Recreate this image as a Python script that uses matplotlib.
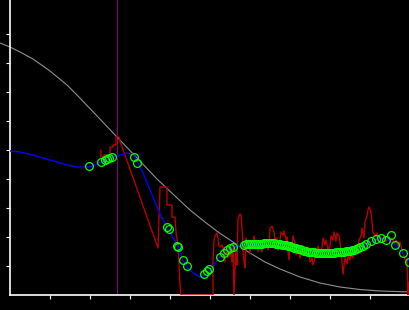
import matplotlib
matplotlib.use("Agg")
import matplotlib.pyplot as plt

# ---- data ----
gray_x = [-10, 0, 10, 23, 40, 57, 67, 88, 107, 127, 147, 165, 180, 195, 208, 223, 240,
          255, 270, 290, 310, 330, 350, 370, 400]
gray_y = [252, 248, 243, 236, 224, 210, 200, 178, 158, 137, 116, 99, 85, 73, 63, 53, 42,
          33, 26, 18, 12, 8, 5.5, 4, 3]

blue_x = [0, 10, 23, 33, 47, 57, 67, 79, 87, 93, 103, 110, 117, 122, 125, 128, 133, 140,
          147, 153, 160, 168, 173, 178, 183, 190, 195, 200, 210, 215, 223, 233, 250, 260,
          270, 280, 290, 300, 310, 320, 330, 340, 350, 360, 370, 377, 385, 393, 400]
blue_y = [144, 143, 140, 137, 133, 130, 128, 128, 131, 134, 138, 140, 142, 141, 138, 132,
          122, 105, 88, 75, 63, 48, 35, 27, 22, 18, 20, 25, 38, 43, 48, 50, 51, 52, 51, 49,
          46, 43, 42, 42, 43, 44, 48, 53, 57, 56, 50, 42, 33]

red_x = [91, 91, 94, 94, 97, 97, 100, 100, 103, 103, 106, 106, 109, 110, 148, 150, 157,
         157, 162, 162, 165, 166, 168, 169, 170, 171, 203, 203, 204, 205, 207, 208, 209,
         210, 212, 214, 215, 216, 218, 219, 220, 221, 222, 223, 224, 225, 226, 227, 228,
         230, 231, 232, 233, 234, 235, 236, 238, 239, 240, 241, 243, 244, 246, 247, 248,
         249, 250, 252, 253, 255, 256, 258, 259, 260, 262, 264, 265, 267, 268, 270, 271,
         273, 274, 276, 277, 278, 279, 280, 282, 283, 285, 286, 288, 290, 292, 293, 295,
         297, 299, 300, 302, 303, 305, 307, 308, 310, 312, 313, 315, 316, 318, 320, 321,
         323, 324, 326, 327, 329, 330, 331, 332, 333, 334, 335, 337, 338, 340, 341, 343,
         345, 346, 348, 349, 351, 352, 354, 355, 357, 358, 359, 361, 362, 363, 365, 367,
         368, 370, 372, 374, 376, 378, 380, 382, 384, 386, 388, 390, 392, 394, 396, 397,
         398, 399, 400]
red_y = [145, 138, 138, 140, 140, 138, 138, 148, 148, 150, 150, 158, 158, 154, 47, 108,
         108, 90, 90, 78, 78, 62, 50, 30, 10, 0, 0, 33, 55, 59, 62, 57, 49, 48, 50, 45,
         33, 45, 37, 48, 39, 45, 33, 48, 0, 25, 45, 30, 77, 81, 80, 67, 45, 33, 27, 57,
         49, 55, 41, 54, 48, 59, 49, 55, 43, 52, 50, 43, 53, 47, 51, 45, 49, 67, 69, 63,
         55, 57, 45, 55, 63, 60, 64, 55, 58, 43, 35, 53, 49, 59, 52, 40, 47, 37, 45, 49,
         43, 39, 43, 33, 37, 30, 37, 45, 49, 41, 47, 57, 50, 55, 45, 49, 59, 55, 63, 54,
         62, 59, 53, 43, 33, 21, 29, 37, 31, 39, 35, 41, 37, 45, 41, 47, 55, 59, 67, 57,
         73, 79, 85, 88, 83, 73, 63, 59, 62, 55, 59, 55, 59, 53, 57, 53, 57, 51, 55, 49,
         53, 45, 39, 33, 37, 0, 12, 15]

pts_x = [79, 91, 95, 97, 99, 102, 124, 127, 157, 159, 167, 168, 173, 177, 194, 197, 199,
         210, 214, 217, 220, 223,
         234, 236, 238, 240, 242, 244, 246, 248, 250, 252, 254, 256, 258, 260, 262, 264,
         266, 268, 270, 272, 274, 276, 278, 280, 282, 284, 286, 288, 290, 292, 294, 296,
         298, 300, 302, 304, 306, 308, 310, 312, 314, 316, 318, 320, 322, 324, 326, 328,
         330, 332, 334, 336, 338, 340, 342, 344, 346, 348, 350, 353,
         356, 361, 366, 371, 376, 381, 385, 393, 399]
pts_y = [129, 133, 135, 136, 137, 138, 138, 132, 68, 66, 49, 48, 35, 29, 21, 24, 26, 38,
         42, 45, 47, 48,
         50, 51, 51, 51, 51, 51, 51, 51, 51, 51, 52, 52, 52, 52, 52, 52,
         51, 51, 51, 50, 50, 50, 49, 49, 48, 47, 47, 46, 46, 45, 44, 44,
         43, 43, 43, 43, 42, 42, 42, 42, 42, 42, 42, 42, 42, 42, 43, 43,
         43, 43, 43, 44, 44, 44, 45, 45, 46, 47, 48, 49,
         51, 54, 56, 57, 55, 60, 50, 42, 33]

cursor_x = 107.5
x_ticks = [40, 80, 120, 160, 200, 240, 280, 320, 360, 400]
y_ticks = [29, 58, 87, 116, 145, 174, 203, 232, 261]

# ---- figure ----
fig = plt.figure(figsize=(4.1, 3.1), dpi=100, facecolor="black")
ax = fig.add_axes([10 / 410, 15 / 310, 400 / 410, 295 / 310])
ax.set_facecolor("black")

ax.plot(gray_x, gray_y, color="#909090", lw=0.8, clip_on=False, zorder=2)
ax.axvline(cursor_x, color="#800080", lw=0.75, zorder=1)
ax.plot(red_x, red_y, color="#b80000", lw=1.0, zorder=3)
ax.plot(blue_x, blue_y, color="#0000ff", lw=1.0, zorder=4)
ax.plot(pts_x, pts_y, ls="none", marker="o", ms=5.6, mfc="none", mec="#00ff00",
        mew=0.9, zorder=5)

ax.set_xlim(0, 400)
ax.set_ylim(0, 295)
ax.set_xticks(x_ticks)
ax.set_yticks(y_ticks)
ax.set_xticklabels([])
ax.set_yticklabels([])
ax.tick_params(colors="white", direction="out", length=3, width=0.8)
for s in ("top", "right"):
    ax.spines[s].set_visible(False)
for s in ("left", "bottom"):
    ax.spines[s].set_color("white")
    ax.spines[s].set_linewidth(1.2)

fig.savefig("out.png", dpi=100, facecolor="black")
